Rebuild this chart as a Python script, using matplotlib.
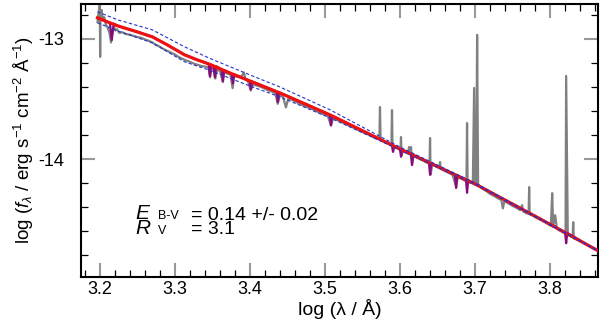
import matplotlib
matplotlib.use('Agg')
import matplotlib.pyplot as plt
from matplotlib.ticker import MultipleLocator, FormatStrFormatter

plt.rcParams['font.family'] = ['Liberation Sans', 'DejaVu Sans']
plt.rcParams['mathtext.fontset'] = 'custom'
plt.rcParams['mathtext.rm'] = 'Liberation Sans'
plt.rcParams['mathtext.it'] = 'Liberation Sans:italic'
plt.rcParams['axes.unicode_minus'] = False

# observed spectrum (grey), log lambda / log f
obs_x = [3.197, 3.198, 3.1995, 3.2000, 3.2005, 3.201, 3.2025, 3.204, 3.206, 3.208,
         3.210, 3.213, 3.215, 3.217, 3.219, 3.221, 3.223, 3.226, 3.23, 3.235,
         3.24, 3.245, 3.25, 3.255, 3.26, 3.265, 3.27, 3.275, 3.28, 3.285,
         3.29, 3.295, 3.30, 3.305, 3.31, 3.315, 3.32, 3.325, 3.33, 3.335,
         3.34, 3.345, 3.347, 3.349, 3.352, 3.354, 3.356, 3.36, 3.364, 3.366,
         3.37, 3.374, 3.377, 3.379, 3.383, 3.388, 3.392, 3.394, 3.398, 3.401,
         3.404, 3.41, 3.415, 3.42, 3.425, 3.43, 3.434, 3.437, 3.44, 3.444,
         3.448, 3.451, 3.456, 3.46, 3.465, 3.47, 3.475, 3.48, 3.485, 3.49,
         3.495, 3.50, 3.504, 3.508, 3.511, 3.515, 3.52, 3.525, 3.53, 3.535,
         3.54, 3.545, 3.55, 3.555, 3.56, 3.565, 3.5725, 3.5733, 3.5741, 3.578,
         3.582, 3.586, 3.5885, 3.5893, 3.590, 3.5907, 3.592, 3.597, 3.6005, 3.6013,
         3.6021, 3.604, 3.608, 3.611, 3.612, 3.6133, 3.6147, 3.616, 3.618, 3.622,
         3.627, 3.632, 3.636, 3.6393, 3.640, 3.6407, 3.643, 3.648, 3.6525, 3.6533,
         3.654, 3.66, 3.665, 3.67, 3.6747, 3.677, 3.682, 3.6885, 3.6893, 3.690,
         3.693, 3.697, 3.6987, 3.700, 3.7015, 3.7027, 3.704, 3.708, 3.712, 3.716,
         3.72, 3.725, 3.73, 3.735, 3.737, 3.739, 3.745, 3.75, 3.755, 3.76,
         3.7627, 3.764, 3.768, 3.7713, 3.772, 3.7727, 3.777, 3.782, 3.787, 3.792,
         3.797, 3.801, 3.8027, 3.804, 3.8067, 3.809, 3.813, 3.817, 3.8205, 3.8213,
         3.8235, 3.827, 3.830, 3.8307, 3.8315, 3.834, 3.836]
obs_y = [-12.86, -12.80, -12.74, -12.72, -13.15, -12.78, -12.76, -12.84, -12.82, -12.88,
         -12.90, -12.95, -13.03, -12.93, -12.90, -12.93, -12.92, -12.95, -12.945, -12.96,
         -12.965, -12.975, -12.985, -12.99, -13.005, -13.015, -13.03, -13.05, -13.065, -13.085,
         -13.10, -13.115, -13.13, -13.15, -13.165, -13.18, -13.19, -13.205, -13.215, -13.225,
         -13.23, -13.24, -13.32, -13.245, -13.25, -13.33, -13.26, -13.265, -13.36, -13.275,
         -13.29, -13.295, -13.41, -13.31, -13.315, -13.32, -13.28, -13.33, -13.36, -13.43,
         -13.38, -13.39, -13.40, -13.415, -13.43, -13.44, -13.455, -13.54, -13.47, -13.48,
         -13.57, -13.50, -13.505, -13.52, -13.535, -13.55, -13.565, -13.575, -13.59, -13.605,
         -13.62, -13.63, -13.645, -13.72, -13.66, -13.67, -13.685, -13.70, -13.715, -13.73,
         -13.745, -13.76, -13.775, -13.79, -13.80, -13.82, -13.835, -13.567, -13.84, -13.855,
         -13.865, -13.875, -13.885, -13.592, -13.89, -13.93, -13.895, -13.91, -13.925, -13.817,
         -13.97, -13.935, -13.945, -13.955, -13.90, -13.96, -13.90, -14.04, -13.97, -13.985,
         -14.00, -14.015, -14.03, -14.04, -13.825, -14.13, -14.045, -14.06, -14.075, -14.025,
         -14.08, -14.10, -14.115, -14.13, -14.23, -14.15, -14.165, -14.185, -13.70, -14.19,
         -14.195, -14.20, -13.408, -14.20, -14.20, -12.967, -14.21, -14.235, -14.255, -14.27,
         -14.29, -14.305, -14.325, -14.34, -14.41, -14.35, -14.37, -14.39, -14.405, -14.425,
         -14.383, -14.435, -14.45, -14.455, -14.233, -14.46, -14.47, -14.49, -14.505, -14.52,
         -14.54, -14.555, -14.283, -14.565, -14.467, -14.58, -14.595, -14.61, -14.62, -13.308,
         -14.63, -14.64, -14.65, -14.525, -14.66, -14.665, -14.67]

# model with absorption lines (purple)
mod_x = [3.197, 3.210, 3.2135, 3.216, 3.2185, 3.224, 3.250, 3.270, 3.290, 3.313,
         3.330, 3.345, 3.3467, 3.3485, 3.3515, 3.3533, 3.355, 3.3625, 3.364, 3.3655,
         3.3758, 3.3773, 3.379, 3.3998, 3.4013, 3.4028, 3.4358, 3.4373, 3.4388, 3.5065,
         3.508, 3.5095, 3.5892, 3.5907, 3.5922, 3.5998, 3.6013, 3.6028, 3.6145, 3.616,
         3.6175, 3.6385, 3.640, 3.6415, 3.6732, 3.6747, 3.6762, 3.6878, 3.6893, 3.6908,
         3.703, 3.780, 3.8198, 3.8213, 3.8228, 3.865]
mod_y = [-12.825, -12.858, -12.867, -13.01, -12.874, -12.892, -12.942, -12.983, -13.050, -13.133,
         -13.175, -13.208, -13.31, -13.215, -13.222, -13.32, -13.227, -13.254, -13.35, -13.26,
         -13.29, -13.37, -13.295, -13.35, -13.42, -13.355, -13.44, -13.525, -13.445, -13.632,
         -13.72, -13.64, -13.883, -13.94, -13.89, -13.913, -13.98, -13.921, -13.958, -14.05,
         -13.965, -14.027, -14.13, -14.035, -14.128, -14.24, -14.135, -14.170, -14.28, -14.176,
         -14.217, -14.475, -14.606, -14.70, -14.614, -14.767]

# smoothed reddened model (red)
fit_x = [3.197, 3.210, 3.224, 3.250, 3.270, 3.290, 3.313, 3.330, 3.345, 3.373,
         3.400, 3.440, 3.507, 3.600, 3.703, 3.780, 3.865]
fit_y = [-12.825, -12.858, -12.892, -12.942, -12.983, -13.050, -13.133, -13.175, -13.208, -13.283,
         -13.350, -13.450, -13.633, -13.917, -14.217, -14.475, -14.767]

# E(B-V) error bounds (blue dashed)
err_x = [3.197, 3.224, 3.27, 3.313, 3.345, 3.40, 3.44, 3.507, 3.56, 3.60, 3.703, 3.865]
upper_y = [-12.775, -12.842, -12.925, -13.066, -13.158, -13.300, -13.400, -13.591, -13.767,
           -13.900, -14.209, -14.767]
lower_y = [-12.867, -12.934, -13.033, -13.191, -13.258, -13.392, -13.483, -13.658, -13.809,
           -13.925, -14.221, -14.767]

fig = plt.figure(figsize=(6, 3.34), dpi=100)
ax = fig.add_axes([0.135, 0.171, 0.862, 0.817])

ax.plot(obs_x, obs_y, color='#808080', lw=1.6, zorder=2)
ax.plot(mod_x, mod_y, color='#8b0a7a', lw=1.6, zorder=3)
ax.plot(fit_x, fit_y, color='#ee1111', lw=2.3, zorder=4)
ax.plot(err_x, upper_y, color='#2233cc', lw=0.8, dashes=(3, 2), zorder=5)
ax.plot(err_x, lower_y, color='#2233cc', lw=0.8, dashes=(3, 2), zorder=5)

ax.set_xlim(3.175, 3.864)
ax.set_ylim(-14.98, -12.71)
ax.xaxis.set_major_locator(MultipleLocator(0.1))
ax.xaxis.set_minor_locator(MultipleLocator(0.02))
ax.xaxis.set_major_formatter(FormatStrFormatter('%.1f'))
ax.yaxis.set_major_locator(MultipleLocator(1))
ax.yaxis.set_minor_locator(MultipleLocator(0.2))
ax.yaxis.set_major_formatter(FormatStrFormatter('%d'))
ax.tick_params(which='major', direction='in', length=10, width=1.5, color='#999999',
               top=True, right=True, labelsize=13)
ax.tick_params(which='minor', direction='in', length=5, width=0.9, color='black',
               top=True, right=True)
ax.tick_params(axis='x', which='major', pad=3)
ax.tick_params(axis='y', which='major', pad=12)
for s in ax.spines.values():
    s.set_linewidth(1.5)

ax.set_xlabel('log (λ / Å)', fontsize=14, labelpad=1)
ax.set_ylabel(r'log ($f_\lambda$ / erg s$^{-1}$ cm$^{-2}$ Å$^{-1}$)', fontsize=13.5, labelpad=2)

# two-line annotation; each column is one text so the rows share baselines
ax.text(0.106, 0.1575, 'E\nR', style='italic', fontsize=15, linespacing=0.70,
        va='baseline', transform=ax.transAxes)
ax.text(0.148, 0.1575, 'B-V\nV', fontsize=9, linespacing=1.36,
        va='baseline', transform=ax.transAxes)
ax.text(0.213, 0.1575, '= 0.14 +/- 0.02\n= 3.1', fontsize=14, linespacing=0.77,
        va='baseline', transform=ax.transAxes)

plt.savefig('out.png', dpi=100)
